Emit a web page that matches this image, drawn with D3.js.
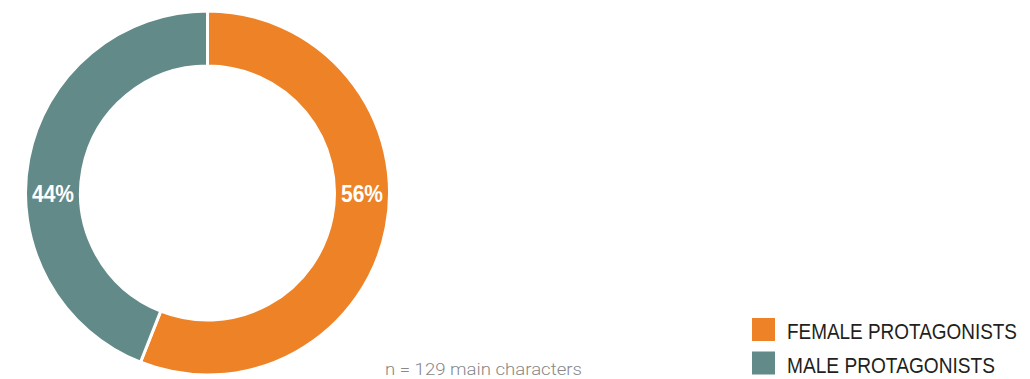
<!DOCTYPE html>
<html>
<head>
<meta charset="utf-8">
<script src="https://cdn.jsdelivr.net/npm/d3@7"></script>
<style>
  html, body { margin: 0; padding: 0; background: #fff; }
  svg { display: block; }
</style>
</head>
<body>
<svg id="chart" width="1030" height="379"></svg>
<script>
// Share of protagonists by gender (percent)
const categories = ["FEMALE PROTAGONISTS", "MALE PROTAGONISTS"];
const values = [56, 44];
const colors = ["#ee8226", "#618a88"];
const note = "n = 129 main characters";

const svg = d3.select("#chart");
const cx = 207.5, cy = 193;
const outerR = 182, innerR = 127;

const pie = d3.pie().sort(null).value(d => d.value)
  .startAngle(0).endAngle(2 * Math.PI);
const arcs = pie(categories.map((c, i) => ({ name: c, value: values[i], color: colors[i] })));

const arc = d3.arc().innerRadius(innerR).outerRadius(outerR);

const g = svg.append("g").attr("transform", `translate(${cx},${cy})`);

g.selectAll("path.slice")
  .data(arcs)
  .join("path")
  .attr("class", "slice")
  .attr("d", arc)
  .attr("fill", d => d.data.color)
  .attr("stroke", "#fff")
  .attr("stroke-width", 3);

// Condensed look: fit each string to its set width
const narrow = "'Liberation Sans', Arial, sans-serif";

// Percentage labels sit on the ring's horizontal midline
const midR = (innerR + outerR) / 2;
g.selectAll("text.pct")
  .data(arcs)
  .join("text")
  .attr("class", "pct")
  .attr("x", (d, i) => (i === 0 ? midR : -midR) - 21)
  .attr("y", 9)
  .attr("textLength", 42)
  .attr("lengthAdjust", "spacingAndGlyphs")
  .attr("fill", "#fff")
  .style("font-family", narrow)
  .style("font-weight", "bold")
  .style("font-size", "23.5px")
  .text(d => d.data.value + "%");

// Sample size note
svg.append("text")
  .attr("x", 385)
  .attr("y", 375)
  .attr("textLength", 197)
  .attr("lengthAdjust", "spacingAndGlyphs")
  .attr("fill", "#888")
  .style("font-family", "Roboto, sans-serif")
  .style("font-weight", 300)
  .style("font-size", "17px")
  .text(note);

// Legend
const legendWidths = [230, 208];
const legend = svg.append("g").attr("transform", "translate(752,318)");
const item = legend.selectAll("g.item")
  .data(arcs)
  .join("g")
  .attr("class", "item")
  .attr("transform", (d, i) => `translate(0,${i * 33.5})`);

item.append("rect")
  .attr("width", 23)
  .attr("height", 23)
  .attr("fill", d => d.data.color);

item.append("text")
  .attr("x", 35)
  .attr("y", 21)
  .attr("textLength", (d, i) => legendWidths[i])
  .attr("lengthAdjust", "spacingAndGlyphs")
  .attr("fill", "#231f20")
  .style("font-family", narrow)
  .style("font-size", "21.5px")
  .text(d => d.data.name);
</script>
</body>
</html>
